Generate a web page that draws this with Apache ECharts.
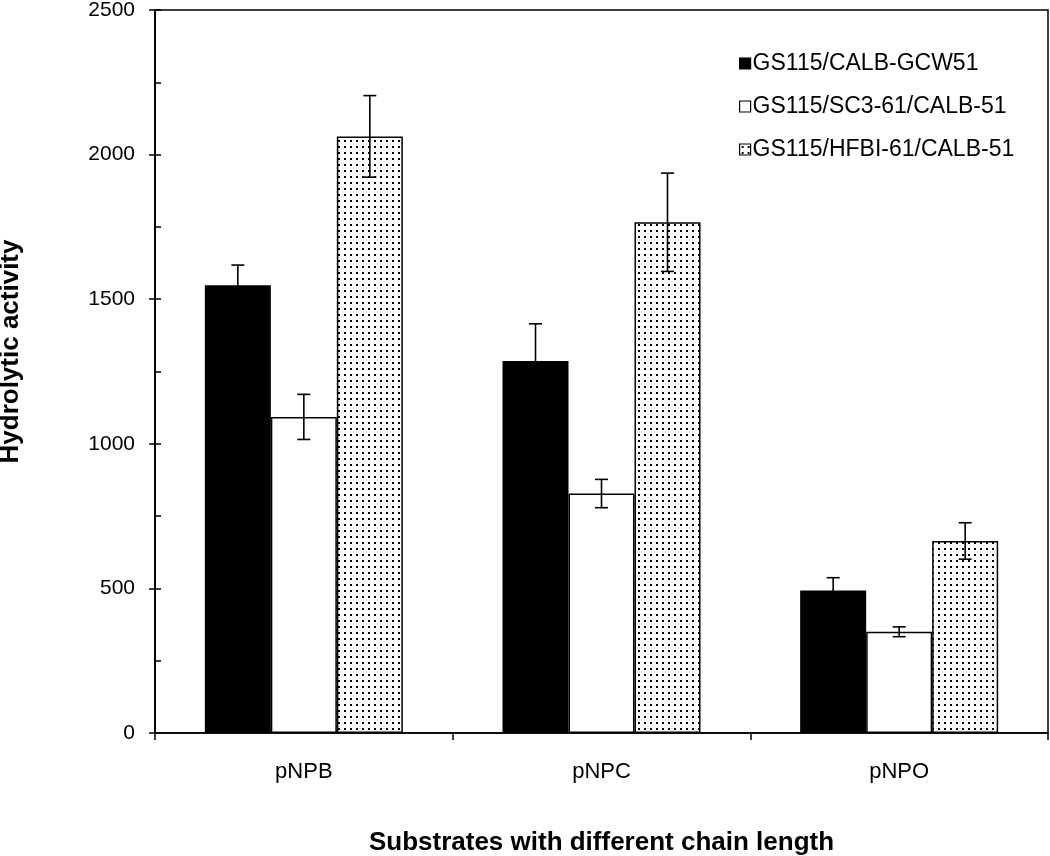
<!DOCTYPE html>
<html>
<head>
<meta charset="utf-8">
<script src="https://cdn.jsdelivr.net/npm/echarts@6/dist/echarts.min.js"></script>
<style>
html,body{margin:0;padding:0;background:#fff;}
#chart{width:1050px;height:856px;}
</style>
</head>
<body>
<div id="chart"></div>
<script>
// ---- data ----
const categories = ['pNPB', 'pNPC', 'pNPO'];
const seriesNames = ['GS115/CALB-GCW51', 'GS115/SC3-61/CALB-51', 'GS115/HFBI-61/CALB-51'];
const calbGcw51 = [1548, 1286, 493];
const calbGcw51Err = [70, 129, 44];
const sc3Calb51 = [1093, 828, 350];
const sc3Calb51Err = [78, 49, 17];
const hfbiCalb51 = [2063, 1766, 664];
const hfbiCalb51Err = [141, 170, 63];
const yTicks = [0, 500, 1000, 1500, 2000, 2500];

// ---- styles ----
const BAR_W = 66;
function makePattern() {
  const c = document.createElement('canvas');
  c.width = 6; c.height = 6;
  const ctx = c.getContext('2d');
  ctx.fillStyle = '#fff';
  ctx.fillRect(0, 0, 6, 6);
  ctx.fillStyle = '#000';
  ctx.fillRect(2, 2, 2, 2);
  return c;
}
const dotted = { image: makePattern(), repeat: 'repeat' };
const fills = ['#000000', '#ffffff', dotted];
const values = [calbGcw51, sc3Calb51, hfbiCalb51];
const errors = [calbGcw51Err, sc3Calb51Err, hfbiCalb51Err];
const FONT = "'Liberation Sans', Arial, sans-serif";

const chart = echarts.init(document.getElementById('chart'), null, { renderer: 'canvas' });

const barSeries = values.map((vals, i) => ({
  name: seriesNames[i],
  type: 'bar',
  data: vals,
  barWidth: BAR_W,
  barGap: '0%',
  itemStyle: { color: fills[i], borderColor: '#000', borderWidth: 1.5 },
  z: 2
}));

const errSeries = values.map((vals, i) => ({
  type: 'custom',
  name: 'err' + i,
  data: vals.map((v, j) => [j, v, errors[i][j]]),
  z: 5,
  silent: true,
  renderItem: function (params, api) {
    const ci = api.value(0);
    const v = api.value(1);
    const e = api.value(2);
    const top = api.coord([ci, v + e]);
    const bot = api.coord([ci, v - e]);
    const x = top[0] + (i - 1) * BAR_W;
    const cap = 6.5;
    const st = { stroke: '#000', lineWidth: 1.6 };
    return {
      type: 'group',
      children: [
        { type: 'line', shape: { x1: x, y1: top[1], x2: x, y2: bot[1] }, style: st },
        { type: 'line', shape: { x1: x - cap, y1: top[1], x2: x + cap, y2: top[1] }, style: st },
        { type: 'line', shape: { x1: x - cap, y1: bot[1], x2: x + cap, y2: bot[1] }, style: st }
      ]
    };
  }
}));

const option = {
  backgroundColor: '#fff',
  animation: false,
  textStyle: { fontFamily: FONT, color: '#000' },
  grid: {
    left: 155, top: 10, right: 2, bottom: 123,
    containLabel: false, outerBoundsMode: 'none',
    show: true, borderColor: '#000', borderWidth: 1.5, backgroundColor: 'transparent'
  },
  legend: {
    data: seriesNames,
    orient: 'vertical',
    left: 734,
    top: 47,
    itemWidth: 11,
    itemHeight: 11,
    itemGap: 20,
    icon: 'rect',
    textStyle: { fontSize: 23, color: '#000', fontFamily: FONT, padding: [0, 0, 0, -3] },
    itemStyle: { borderColor: '#000', borderWidth: 1.2 }
  },
  xAxis: {
    type: 'category',
    data: categories,
    name: 'Substrates with different chain length',
    nameLocation: 'middle',
    nameGap: 97,
    nameTextStyle: { fontSize: 26, fontWeight: 'bold', fontFamily: FONT, color: '#000' },
    axisLine: { lineStyle: { color: '#000', width: 1.5 } },
    axisTick: { show: true, length: 7, lineStyle: { color: '#000', width: 1.5 } },
    axisLabel: { fontSize: 22, color: '#000', margin: 28, fontFamily: FONT }
  },
  yAxis: [
    {
      type: 'value',
      min: yTicks[0],
      max: yTicks[yTicks.length - 1],
      interval: 500,
      name: 'Hydrolytic activity',
      nameLocation: 'middle',
      nameGap: 131,
      nameRotate: 90,
      nameTextStyle: { fontSize: 26, fontWeight: 'bold', fontFamily: FONT, color: '#000', padding: [0, 0, 0, 40] },
      axisLine: { show: true, lineStyle: { color: '#000', width: 1.5 } },
      axisTick: { show: true, length: 6, lineStyle: { color: '#000', width: 1.5 } },
      axisLabel: { fontSize: 21, color: '#000', margin: 20, formatter: function (v) { return String(v); } },
      splitLine: { show: false }
    },
    {
      type: 'value',
      min: 0,
      max: 2500,
      interval: 250,
      position: 'left',
      axisLine: { show: true, lineStyle: { color: '#000', width: 1.5 } },
      axisTick: { show: true, inside: true, length: 6, lineStyle: { color: '#000', width: 1.5 } },
      axisLabel: { show: false },
      splitLine: { show: false }
    }
  ],
  series: barSeries.concat(errSeries)
};
chart.setOption(option);
</script>
</body>
</html>
